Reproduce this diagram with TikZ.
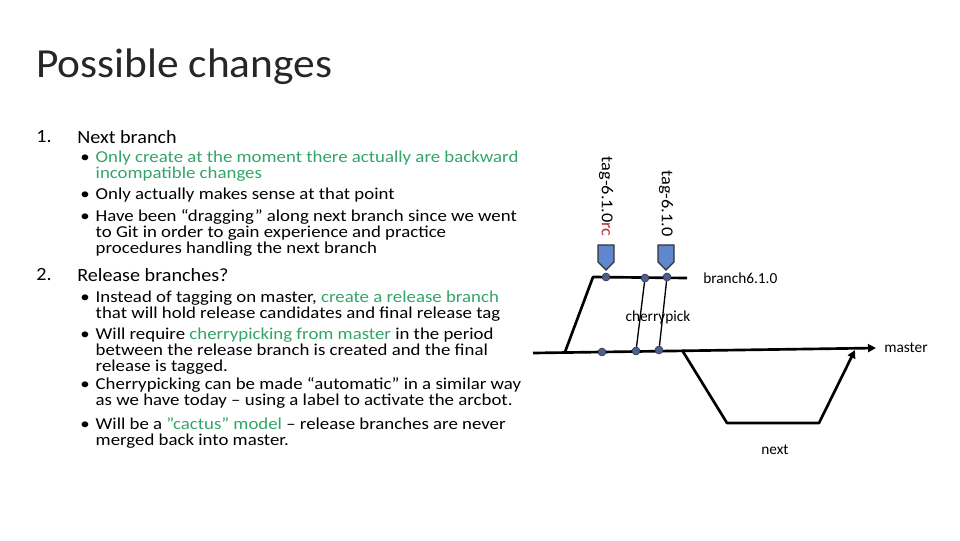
\documentclass[tikz,border=0pt]{standalone}
\usepackage{fontspec}
\setmainfont{Carlito}
\usetikzlibrary{shapes.geometric,arrows.meta}
\definecolor{hl}{RGB}{50,165,105}
\definecolor{tagblue}{RGB}{95,135,205}
\definecolor{dotblue}{RGB}{75,95,145}
\definecolor{rcred}{RGB}{190,40,40}
\newcommand{\bul}{\textbullet\hspace{4pt}}
\newcommand{\ind}{\phantom{\textbullet}\hspace{4pt}}

\begin{document}
\begin{tikzpicture}[x=0.75pt,y=-0.75pt,
		bullet/.style={anchor=north west,align=left,inner sep=0pt,xscale=1.13,transform shape,font=\fontsize{12.5}{12}\selectfont},
		heading/.style={anchor=west,inner sep=0pt,xscale=1.08,transform shape,font=\fontsize{14}{16}\selectfont},
		commit/.style={circle,draw=black!80,fill=dotblue,inner sep=0pt,minimum size=6pt},
		branchline/.style={line width=2pt},
		tagmark/.style={draw=black!80,fill=tagblue,line width=1pt},
		lbl/.style={inner sep=0pt,font=\fontsize{11.5}{12}\selectfont}
		]
	\useasboundingbox (0,0) rectangle (960,540);

	% text
	\node[anchor=west,inner sep=0pt,text=black!85,xscale=1.05,transform shape,font=\fontsize{31}{34}\selectfont](title) at (36,67){Possible changes};
	\node[heading](n1) at (36,137){1.};
	\node[heading](h1) at (77,137){Next branch};
	\node[bullet](b1) at (80,151){\bul{\color{hl}Only create at the moment there actually are backward}\\
		\ind{\color{hl}incompatible changes}};
	\node[bullet](b2) at (80,188){\bul Only actually makes sense at that point};
	\node[bullet](b3) at (80,209){\bul Have been “dragging” along next branch since we went\\
		\ind to Git in order to gain experience and practice\\
		\ind procedures handling the next branch};
	\node[heading](n2) at (36,275){2.};
	\node[heading](h2) at (77,275){Release branches?};
	\node[bullet](b4) at (80,291){\bul Instead of tagging on master, {\color{hl}create a release branch}\\
		\ind that will hold release candidates and final release tag};
	\node[bullet](b5) at (80,328){\bul Will require {\color{hl}cherrypicking from master} in the period\\
		\ind between the release branch is created and the final\\
		\ind release is tagged.};
	\node[bullet](b6) at (80,377){\bul Cherrypicking can be made “automatic” in a similar way\\
		\ind as we have today – using a label to activate the arcbot.};
	\node[bullet](b7) at (80,417){\bul Will be a {\color{hl}”cactus” model} – release branches are never\\
		\ind merged back into master.};

	% branches
	\coordinate (mstart) at (533,353);
	\coordinate (fork) at (565,352);
	\coordinate (bcorner) at (593,277);
	\coordinate (bend) at (687,278);
	\coordinate (nstart) at (682,350);
	\coordinate (nl) at (727,423);
	\coordinate (nr) at (819,423);
	\coordinate (nend) at (855,350);
	\coordinate (mend) at (876,348);
	\draw[branchline,-{Triangle[length=6pt,width=6pt]}] (mstart) -- (mend);
	\draw[branchline,line join=round] (fork) -- (bcorner) -- (bend);
	\draw[branchline,line join=round,-{Triangle[length=6pt,width=6pt]}] (nstart) -- (nl) -- (nr) -- (nend);

	\node[commit](m1) at (602,352){};
	\node[commit](m2) at (636,351){};
	\node[commit](m3) at (659,350){};
	\node[commit](r1) at (606,277){};
	\node[commit](r2) at (645,278){};
	\node[commit](r3) at (667,277){};
	\draw[line width=1pt] (m2) -- (r2);
	\draw[line width=1pt] (m3) -- (r3);

	% tags
	\draw[tagmark] (598,245) -- (614,245) -- (614,262) -- (606,270) -- (598,262) -- cycle;
	\draw[tagmark] (658,245) -- (674,245) -- (674,262) -- (666,270) -- (658,262) -- cycle;
	\node[lbl,rotate=-90,anchor=east,xscale=1.1,transform shape,font=\fontsize{12.5}{13}\selectfont](t1) at (606,237){tag-6.1.0{\color{rcred}rc}};
	\node[lbl,rotate=-90,anchor=east,xscale=1.1,transform shape,font=\fontsize{12.5}{13}\selectfont](t2) at (666,237){tag-6.1.0};

	% labels
	\node[lbl,anchor=west](lb) at (703,278){branch6.1.0};
	\node[lbl](lc) at (658,317){cherrypick};
	\node[lbl,anchor=west](lm) at (884,348){master};
	\node[lbl](ln) at (775,450){next};
\end{tikzpicture}
\end{document}
